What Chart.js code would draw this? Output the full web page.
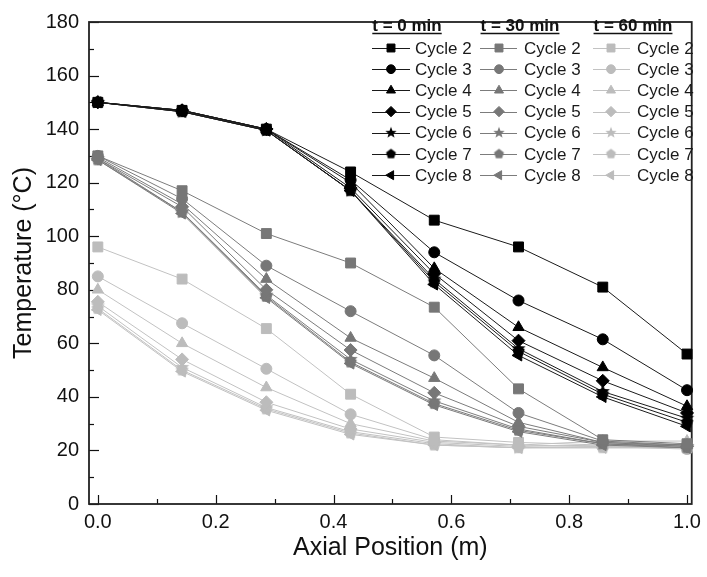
<!DOCTYPE html>
<html>
<head>
<meta charset="utf-8">
<script src="https://cdn.jsdelivr.net/npm/chart.js@4.4.1/dist/chart.umd.min.js"></script>
<style>
  html, body { margin: 0; padding: 0; background: #fff; }
</style>
</head>
<body>
<canvas id="chart1" width="707" height="577"></canvas>
<script>
// data
const positions = [0, 0.143, 0.286, 0.429, 0.571, 0.714, 0.857, 1.0];
const cycleNames = ['Cycle 2', 'Cycle 3', 'Cycle 4', 'Cycle 5', 'Cycle 6', 'Cycle 7', 'Cycle 8'];
const groupTitles = ['t = 0 min', 't = 30 min', 't = 60 min'];
const xTickValues = [0, 0.2, 0.4, 0.6, 0.8, 1.0];
const yTickValues = [0, 20, 40, 60, 80, 100, 120, 140, 160, 180];

// t = 0 min
const t0Cycle2 = [150, 147, 140, 124, 106, 96, 81, 56];
const t0Cycle3 = [150, 147, 140, 121, 94, 76, 61.5, 42.5];
const t0Cycle4 = [150, 147, 140, 120, 88, 66, 51, 36.5];
const t0Cycle5 = [150, 147, 140, 118, 86, 61, 46, 34];
const t0Cycle6 = [150, 146.5, 139.5, 117, 84, 58, 42, 32];
const t0Cycle7 = [150, 146.5, 139.5, 117, 83, 57, 41, 30.5];
const t0Cycle8 = [150, 146.5, 139.5, 117, 82, 55.5, 40, 29];

// t = 30 min
const t30Cycle2 = [130, 117, 101, 90, 73.5, 43, 24, 22.5];
const t30Cycle3 = [130, 114, 89, 72, 55.5, 34, 23.5, 22];
const t30Cycle4 = [129.5, 112, 84, 62, 47, 30.5, 23, 22];
const t30Cycle5 = [129, 111, 80, 57.5, 41.5, 29, 23, 21.5];
const t30Cycle6 = [129, 109, 78, 54, 38.5, 28, 22.5, 21.5];
const t30Cycle7 = [128.5, 109, 77.5, 53, 37.5, 27.5, 22.5, 21];
const t30Cycle8 = [128.5, 108.5, 77, 52.5, 37, 27, 22, 21];

// t = 60 min
const t60Cycle2 = [96, 84, 65.5, 41, 25, 23, 22, 21];
const t60Cycle3 = [85, 67.5, 50.5, 33.5, 24, 22, 21.5, 20.5];
const t60Cycle4 = [80, 60, 43.5, 30, 23.5, 22, 23.5, 23.5];
const t60Cycle5 = [75.5, 54, 38, 28, 23, 21.5, 22, 22];
const t60Cycle6 = [74, 51, 36, 27, 22.5, 21, 21.5, 21];
const t60Cycle7 = [73, 50, 35.5, 26.5, 22, 21, 21, 21];
const t60Cycle8 = [72.5, 49.5, 35, 26, 22, 21, 21, 21];

const groups = [
  [t0Cycle2, t0Cycle3, t0Cycle4, t0Cycle5, t0Cycle6, t0Cycle7, t0Cycle8],
  [t30Cycle2, t30Cycle3, t30Cycle4, t30Cycle5, t30Cycle6, t30Cycle7, t30Cycle8],
  [t60Cycle2, t60Cycle3, t60Cycle4, t60Cycle5, t60Cycle6, t60Cycle7, t60Cycle8]
];

// styles
const FONT = '"Liberation Sans", Arial, sans-serif';
const markerColors = ['#000000', '#777777', '#bcbcbc'];
const lineColors = ['#1a1a1a', '#7c7c7c', '#c2c2c2'];

// star / pentagon markers as small canvases
function shapeCanvas(kind, color, r) {
  const s = Math.ceil(r * 2 + 2);
  const c = document.createElement('canvas');
  c.width = s; c.height = s;
  const g = c.getContext('2d');
  const cx = s / 2, cy = s / 2;
  g.fillStyle = color;
  g.beginPath();
  if (kind === 'star') {
    for (let i = 0; i < 10; i++) {
      const rad = i % 2 === 0 ? r : r * 0.42;
      const a = -Math.PI / 2 + i * Math.PI / 5;
      const px = cx + rad * Math.cos(a), py = cy + rad * Math.sin(a);
      if (i === 0) g.moveTo(px, py); else g.lineTo(px, py);
    }
  } else {
    for (let i = 0; i < 5; i++) {
      const a = -Math.PI / 2 + i * 2 * Math.PI / 5;
      const px = cx + r * Math.cos(a), py = cy + r * Math.sin(a);
      if (i === 0) g.moveTo(px, py); else g.lineTo(px, py);
    }
  }
  g.closePath();
  g.fill();
  return c;
}

function markerFor(cycleIdx, color, k) {
  switch (cycleIdx) {
    case 0: return { style: 'rect', radius: 7 * k, rotation: 0 };
    case 1: return { style: 'circle', radius: 5.5 * k, rotation: 0 };
    case 2: return { style: 'triangle', radius: 6.5 * k, rotation: 0 };
    case 3: return { style: 'rectRot', radius: 6.5 * k, rotation: 0 };
    case 4: return { style: shapeCanvas('star', color, 7.5 * k), radius: 6 * k, rotation: 0 };
    case 5: return { style: shapeCanvas('pentagon', color, 6.5 * k), radius: 6 * k, rotation: 0 };
    default: return { style: 'triangle', radius: 6.5 * k, rotation: -90 };
  }
}

const datasets = [];
groups.forEach((series, g) => {
  series.forEach((vals, i) => {
    const m = markerFor(i, markerColors[g], 1);
    datasets.push({
      label: groupTitles[g] + ' ' + cycleNames[i],
      data: positions.map((x, k) => ({ x: x, y: vals[k] })),
      borderColor: lineColors[g],
      borderWidth: 1,
      backgroundColor: markerColors[g],
      pointBackgroundColor: markerColors[g],
      pointBorderColor: markerColors[g],
      pointBorderWidth: 1,
      pointStyle: m.style,
      pointRadius: m.radius,
      pointRotation: m.rotation,
      clip: false,
      tension: 0
    });
  });
});

// frame and inward ticks
const framePlugin = {
  id: 'frame',
  beforeDatasetsDraw(chart) {
    const { ctx, chartArea: a, scales } = chart;
    ctx.save();
    ctx.strokeStyle = '#111';
    ctx.lineWidth = 1.2;
    for (let v = 0; v <= 10; v++) {
      const px = Math.round(scales.x.getPixelForValue(v / 10)) + 0.5;
      const len = v % 2 === 0 ? 9 : 5;
      ctx.beginPath(); ctx.moveTo(px, a.bottom); ctx.lineTo(px, a.bottom - len); ctx.stroke();
    }
    for (let v = 0; v <= 180; v += 10) {
      const py = Math.round(scales.y.getPixelForValue(v)) + 0.5;
      const len = v % 20 === 0 ? 10 : 5;
      ctx.beginPath(); ctx.moveTo(a.left, py); ctx.lineTo(a.left + len, py); ctx.stroke();
    }
    ctx.lineWidth = 1.8;
    ctx.strokeStyle = '#222';
    ctx.strokeRect(a.left, a.top, a.right - a.left, a.bottom - a.top);
    ctx.restore();
  }
};

// three-column legend
const legendLayout = {
  lineStart: [372, 480, 593],
  lineEnd: [410, 517, 630],
  markerX: [391, 499, 611],
  textX: [415, 524, 637],
  headerX: [407, 520, 633],
  headerY: 26,
  rowY: 48,
  rowStep: 21.2
};

const legendPlugin = {
  id: 'threeColLegend',
  afterDraw(chart) {
    const ctx = chart.ctx;
    const L = legendLayout;
    ctx.save();
    groupTitles.forEach((title, g) => {
      ctx.font = 'bold 17px ' + FONT;
      ctx.fillStyle = '#111';
      ctx.textAlign = 'center';
      ctx.textBaseline = 'middle';
      ctx.fillText(title, L.headerX[g], L.headerY);
      const w = ctx.measureText(title).width;
      ctx.lineWidth = 1.5;
      ctx.strokeStyle = '#111';
      ctx.beginPath();
      ctx.moveTo(L.headerX[g] - w / 2, L.headerY + 7.5);
      ctx.lineTo(L.headerX[g] + w / 2, L.headerY + 7.5);
      ctx.stroke();

      cycleNames.forEach((name, i) => {
        const ds = chart.data.datasets[g * cycleNames.length + i];
        const m = markerFor(i, ds.pointBackgroundColor, 0.8);
        const y = L.rowY + i * L.rowStep;
        ctx.strokeStyle = ds.borderColor;
        ctx.lineWidth = 1;
        ctx.beginPath();
        ctx.moveTo(L.lineStart[g], Math.round(y) + 0.5);
        ctx.lineTo(L.lineEnd[g], Math.round(y) + 0.5);
        ctx.stroke();
        ctx.fillStyle = ds.pointBackgroundColor;
        ctx.strokeStyle = ds.pointBorderColor;
        Chart.helpers.drawPoint(ctx, {
          pointStyle: m.style,
          radius: m.radius,
          rotation: m.rotation,
          borderWidth: 1
        }, L.markerX[g], y);
        ctx.font = '17px ' + FONT;
        ctx.fillStyle = '#1a1a1a';
        ctx.textAlign = 'left';
        ctx.textBaseline = 'middle';
        ctx.fillText(name, L.textX[g], y + 1);
      });
    });
    ctx.restore();
  }
};

const ctx = document.getElementById('chart1').getContext('2d');

new Chart(ctx, {
  type: 'line',
  data: { datasets: datasets },
  options: {
    responsive: false,
    animation: false,
    layout: { padding: { top: 14, right: 10, left: 0, bottom: 0 } },
    plugins: {
      legend: { display: false },
      tooltip: { enabled: false }
    },
    scales: {
      x: {
        type: 'linear',
        min: -0.015,
        max: 1.008,
        grid: { display: false, drawTicks: false },
        border: { display: false },
        afterBuildTicks: s => { s.ticks = xTickValues.map(v => ({ value: v })); },
        afterFit: s => { s.height = 73; },
        ticks: {
          color: '#111',
          padding: 6,
          font: { family: FONT, size: 20 },
          callback: v => Number(v).toFixed(1)
        },
        title: {
          display: true,
          text: 'Axial Position (m)',
          color: '#111',
          font: { family: FONT, size: 25 },
          padding: { top: 0, bottom: 14 }
        }
      },
      y: {
        min: 0,
        max: 180,
        grid: { display: false, drawTicks: false },
        border: { display: false },
        afterBuildTicks: s => { s.ticks = yTickValues.map(v => ({ value: v })); },
        afterFit: s => { s.width = 89; },
        ticks: {
          color: '#111',
          padding: 10,
          font: { family: FONT, size: 20 }
        },
        title: {
          display: true,
          text: 'Temperature (°C)',
          color: '#111',
          font: { family: FONT, size: 25 },
          padding: { top: 9, bottom: 0 }
        }
      }
    }
  },
  plugins: [framePlugin, legendPlugin]
});
</script>
</body>
</html>
